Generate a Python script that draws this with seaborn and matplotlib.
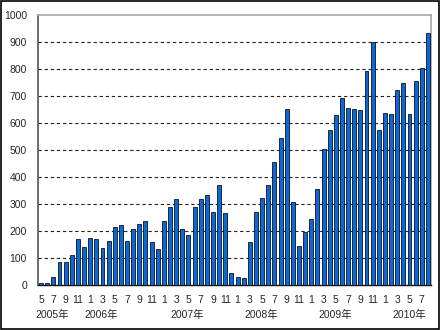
import matplotlib
matplotlib.use("Agg")
import matplotlib.pyplot as plt
import matplotlib.transforms as mtransforms
from matplotlib.patches import Rectangle
import numpy as np
import pandas as pd
import seaborn as sns

# Monthly counts, May 2005 - Aug 2010
years = [2005] * 8 + [2006] * 12 + [2007] * 12 + [2008] * 12 + [2009] * 12 + [2010] * 8
months = list(range(5, 13)) + list(range(1, 13)) * 4 + list(range(1, 9))
counts = [
    8, 6, 30, 85, 85, 111, 169, 142,                       # 2005
    175, 169, 136, 163, 214, 223, 163, 206, 227, 237, 159, 132,  # 2006
    237, 289, 317, 206, 185, 289, 317, 332, 270, 369, 267, 46,   # 2007
    30, 25, 158, 269, 321, 372, 457, 544, 651, 306, 146, 195,    # 2008
    243, 354, 504, 573, 630, 694, 657, 653, 649, 793, 899, 575,  # 2009
    638, 635, 723, 748, 635, 754, 802, 933,                      # 2010
]
year_labels = ["2005年", "2006年", "2007年", "2008年", "2009年", "2010年"]
y_ticks = list(range(0, 1001, 100))

df = pd.DataFrame({"idx": np.arange(len(counts)), "year": years,
                   "month": months, "count": counts})

sns.set_style("white")
plt.rcParams["font.family"] = ["Liberation Sans", "Noto Sans CJK JP", "DejaVu Sans"]

fig = plt.figure(figsize=(4.4, 3.3), dpi=100)
ax = fig.add_axes([38 / 440, 1 - 285 / 330, (431 - 38) / 440, 270 / 330])

sns.barplot(data=df, x="idx", y="count", color="#0868dc", saturation=1,
            edgecolor="#111111", linewidth=0.6, width=0.64, ax=ax, zorder=3)

ax.set_xlim(-0.5, len(counts) - 0.5)
ax.set_ylim(0, 1000)
ax.set_yticks(y_ticks)
ax.set_yticklabels([str(v) for v in y_ticks], fontsize=7.5)
for v in y_ticks[1:-1]:
    ax.axhline(v, color="#222222", lw=0.8, ls=(0, (3, 2.5)), zorder=1)

# every second month on the first label row
tick_idx = df["idx"][::2].tolist()
ax.set_xticks(tick_idx)
ax.set_xticklabels([str(m) for m in df["month"][::2]], fontsize=7.5)
ax.tick_params(axis="both", length=0)
ax.tick_params(axis="x", pad=7)
ax.tick_params(axis="y", pad=8)
ax.set_xlabel("")
ax.set_ylabel("")

# year captions on the second label row
trans = mtransforms.blended_transform_factory(ax.transData, ax.transAxes)
year_pos = [1.8, 9.8, 23.8, 35.8, 47.9, 59.9]
for lbl, xp in zip(year_labels, year_pos):
    ax.text(xp, -30 / 270, lbl, transform=trans, ha="center", va="center",
            fontsize=7.5)

for side in ("top", "right"):
    ax.spines[side].set_color("#a8a8a8")
    ax.spines[side].set_linewidth(1.2)
ax.spines["left"].set_color("#555555")
ax.spines["left"].set_linewidth(1.2)
ax.spines["bottom"].set_color("#111111")
ax.spines["bottom"].set_linewidth(1.0)

# outer frame of the chart
fig.patches.append(Rectangle((0.002, 0.003), 0.995, 0.994, transform=fig.transFigure,
                             fill=False, edgecolor="black", linewidth=1.2))

fig.savefig("out.png", dpi=100)
